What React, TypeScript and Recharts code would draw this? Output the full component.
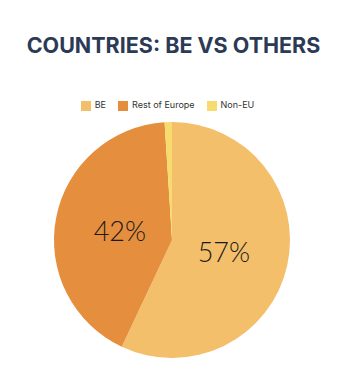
// Pie chart: share of BE vs rest of Europe vs non-EU countries
import { PieChart, Pie, Cell, Legend } from 'recharts';

const categories = ['BE', 'Rest of Europe', 'Non-EU'];
const shares = [57, 42, 1];
const colors = ['#F4BF6B', '#E58E3E', '#F8DB6E'];

const data = categories.map((name, i) => ({ name, value: shares[i] }));

const RAD = Math.PI / 180;

function renderLabel(props: any) {
  const { cx, cy, midAngle, outerRadius, value } = props;
  if (value < 5) return null;
  const r = outerRadius * 0.45;
  const x = cx + r * Math.cos(-midAngle * RAD);
  const y = cy + r * Math.sin(-midAngle * RAD);
  return (
    <text
      x={x}
      y={y}
      fill="#1a1a1a"
      textAnchor="middle"
      dominantBaseline="central"
      style={{ fontFamily: 'Lato, sans-serif', fontSize: 27, fontWeight: 300 }}
    >
      {value}%
    </text>
  );
}

export default function App() {
  return (
    <div style={{ position: 'absolute', left: 0, top: 0, width: 347, height: 374, background: '#fff' }}>
      <div
        style={{
          position: 'absolute',
          top: 28,
          left: 0,
          width: 347,
          textAlign: 'center',
          fontFamily: 'Inter, sans-serif',
          fontWeight: 700,
          fontSize: 21.5,
          color: '#2B3A55',
          lineHeight: '34px',
        }}
      >
        COUNTRIES: BE VS OTHERS
      </div>
      <PieChart
        width={347}
        height={374}
        margin={{ top: 0, right: 0, bottom: 0, left: 0 }}
        style={{ position: 'absolute', left: 0, top: 0 }}
      >
        <Legend
          verticalAlign="middle"
          align="center"
          layout="horizontal"
          iconType="square"
          iconSize={10}
          itemSorter={null as any}
          wrapperStyle={{ top: 99, left: 0, width: 347, fontFamily: 'Inter, sans-serif', fontSize: 9 }}
          formatter={(v: string) => <span style={{ color: '#333', marginRight: 2 }}>{v}</span>}
        />
        <Pie
          data={data}
          dataKey="value"
          nameKey="name"
          cx={172}
          cy={240}
          outerRadius={118}
          startAngle={90}
          endAngle={-270}
          stroke="none"
          label={renderLabel}
          labelLine={false}
          isAnimationActive={false}
        >
          {data.map((d, i) => (
            <Cell key={d.name} fill={colors[i]} />
          ))}
        </Pie>
      </PieChart>
    </div>
  );
}
